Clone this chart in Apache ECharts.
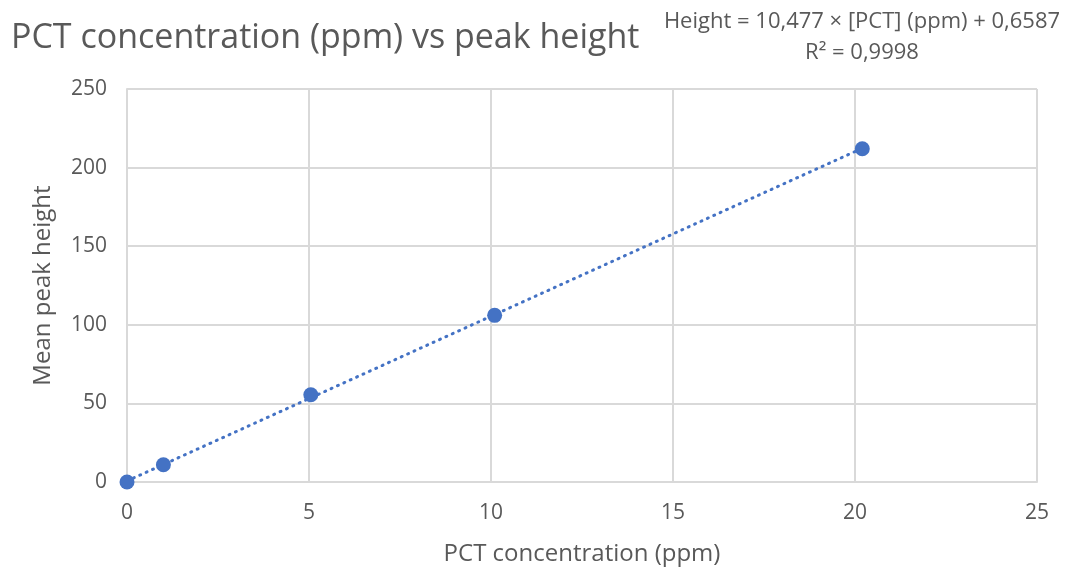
<!DOCTYPE html>
<html>
<head>
<meta charset="utf-8">
<script src="https://cdn.jsdelivr.net/npm/echarts@6/dist/echarts.min.js"></script>
<style>
  html, body { margin: 0; padding: 0; background: #ffffff; }
  #chart { width: 1065px; height: 571px; }
</style>
</head>
<body>
<div id="chart"></div>
<script>
// Calibration points: PCT concentration (ppm) and mean peak height
const concentration = [0, 1.0, 5.05, 10.1, 20.2];
const peakHeight = [0, 11, 55.5, 106, 212];

// Linear fit reported on the chart
const slope = 10.477;
const intercept = 0.6587;
const rSquared = '0,9998';
const fitRange = [0, 20.2];

const xTicks = [0, 5, 10, 15, 20, 25];
const yTicks = [0, 50, 100, 150, 200, 250];

const points = concentration.map((c, i) => [c, peakHeight[i]]);
const fitLine = fitRange.map(x => [x, slope * x + intercept]);

const fmt = v => String(v).replace('.', ',');
const equationLine = 'Height = ' + fmt(slope) + ' × [PCT] (ppm) + ' + fmt(intercept);
const rSquaredLine = 'R² = ' + rSquared;

const chart = echarts.init(document.getElementById('chart'));
const gridColor = '#d9d9d9';
const textColor = '#595959';
const eqFont = '22px "Open Sans", sans-serif';

chart.setOption({
  animation: false,
  backgroundColor: '#ffffff',
  title: [{
    text: 'PCT concentration (ppm) vs peak height',
    left: 6,
    top: 16,
    textStyle: { fontFamily: 'Open Sans', fontSize: 34, fontWeight: 'normal', color: textColor }
  }],
  graphic: [
    {
      type: 'text',
      x: 862,
      y: 22,
      style: { text: equationLine, font: eqFont, fill: textColor, align: 'center', verticalAlign: 'middle' }
    },
    {
      type: 'text',
      x: 862,
      y: 53,
      style: { text: rSquaredLine, font: eqFont, fill: textColor, align: 'center', verticalAlign: 'middle' }
    }
  ],
  grid: { left: 127, right: 28, top: 89, bottom: 88 },
  xAxis: {
    type: 'value',
    min: xTicks[0],
    max: xTicks[xTicks.length - 1],
    interval: 5,
    name: 'PCT concentration (ppm)',
    nameLocation: 'middle',
    nameGap: 60,
    nameTextStyle: { fontFamily: 'Open Sans', fontSize: 24, color: textColor },
    axisLine: { show: true, lineStyle: { color: gridColor, width: 2 } },
    axisTick: { show: false },
    splitLine: { show: true, lineStyle: { color: gridColor, width: 2 } },
    axisLabel: { fontFamily: 'Open Sans', fontSize: 21, color: textColor, margin: 21 }
  },
  yAxis: {
    type: 'value',
    min: yTicks[0],
    max: yTicks[yTicks.length - 1],
    interval: 50,
    name: 'Mean peak height',
    nameLocation: 'middle',
    nameGap: 72,
    nameTextStyle: { fontFamily: 'Open Sans', fontSize: 24, color: textColor },
    axisLine: { show: true, lineStyle: { color: gridColor, width: 2 } },
    axisTick: { show: false },
    splitLine: { show: true, lineStyle: { color: gridColor, width: 2 } },
    axisLabel: { fontFamily: 'Open Sans', fontSize: 21, color: textColor, margin: 20 }
  },
  series: [
    {
      name: 'Linear fit',
      type: 'line',
      data: fitLine,
      symbol: 'none',
      z: 2,
      lineStyle: { color: '#4472c4', width: 3, type: [1, 6], cap: 'round' }
    },
    {
      name: 'Mean peak height',
      type: 'scatter',
      data: points,
      symbolSize: 15,
      z: 3,
      itemStyle: { color: '#4472c4', opacity: 1 }
    }
  ]
});
</script>
</body>
</html>
